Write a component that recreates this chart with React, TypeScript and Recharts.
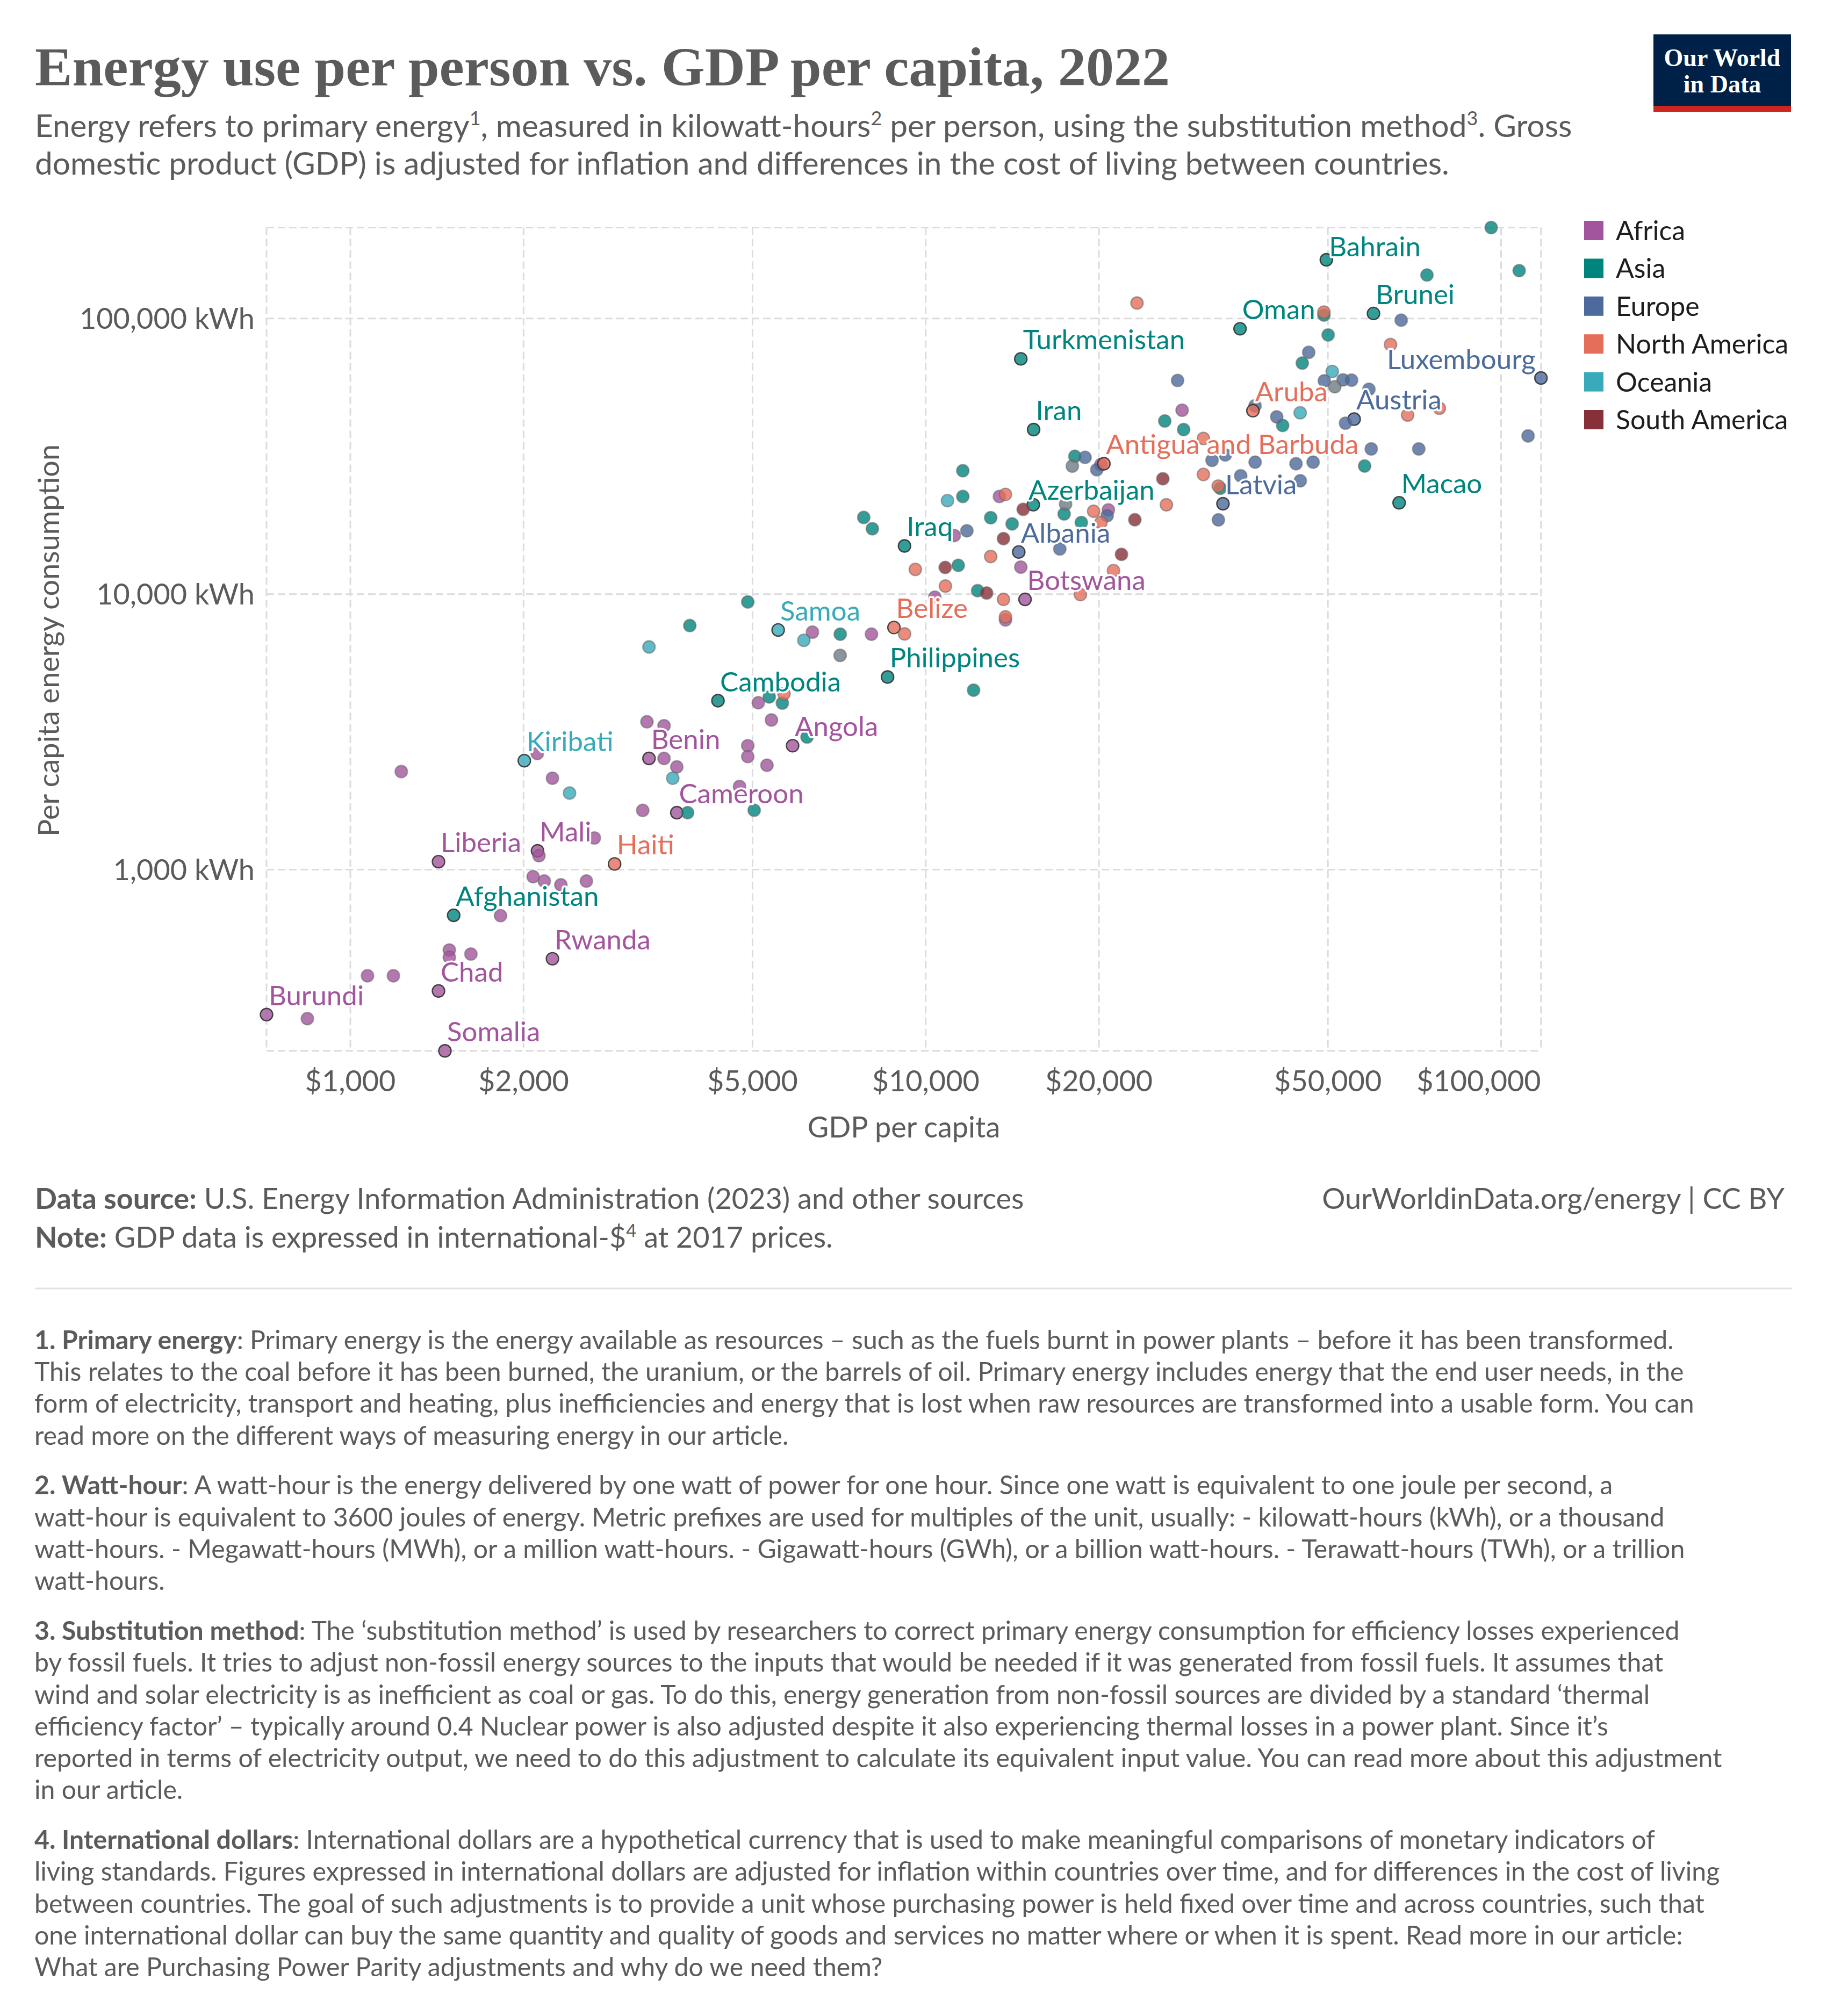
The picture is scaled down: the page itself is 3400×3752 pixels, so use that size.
import React from 'react';
import { ScatterChart, Scatter, XAxis, YAxis, CartesianGrid } from 'recharts';

type Pt = { gdp: number; energy: number; label?: string };

const AFRICA: Pt[] = [
  { gdp: 715, energy: 298, label: 'Burundi' },
  { gdp: 842, energy: 288 },
  { gdp: 1071, energy: 412 },
  { gdp: 1188, energy: 412 },
  { gdp: 1423, energy: 363, label: 'Chad' },
  { gdp: 1486, energy: 511 },
  { gdp: 1486, energy: 481 },
  { gdp: 1620, energy: 494 },
  { gdp: 1460, energy: 220, label: 'Somalia' },
  { gdp: 2245, energy: 475, label: 'Rwanda' },
  { gdp: 1824, energy: 681 },
  { gdp: 1423, energy: 1069, label: 'Liberia' },
  { gdp: 2115, energy: 1170, label: 'Mali' },
  { gdp: 2127, energy: 1124 },
  { gdp: 2655, energy: 1303 },
  { gdp: 2078, energy: 943 },
  { gdp: 2173, energy: 909 },
  { gdp: 2322, energy: 881 },
  { gdp: 2572, energy: 909 },
  { gdp: 2245, energy: 2147 },
  { gdp: 3222, energy: 1641 },
  { gdp: 3693, energy: 1610, label: 'Cameroon' },
  { gdp: 1226, energy: 2270 },
  { gdp: 2113, energy: 2639 },
  { gdp: 3277, energy: 3441 },
  { gdp: 3509, energy: 3328 },
  { gdp: 3304, energy: 2533, label: 'Benin' },
  { gdp: 3509, energy: 2533 },
  { gdp: 3693, energy: 2360 },
  { gdp: 4906, energy: 2817 },
  { gdp: 4906, energy: 2572 },
  { gdp: 5297, energy: 2393 },
  { gdp: 5870, energy: 2817, label: 'Angola' },
  { gdp: 5393, energy: 3493 },
  { gdp: 5117, energy: 4034 },
  { gdp: 4747, energy: 2004 },
  { gdp: 6355, energy: 7275 },
  { gdp: 8048, energy: 7152 },
  { gdp: 10370, energy: 9745 },
  { gdp: 14880, energy: 9570, label: 'Botswana' },
  { gdp: 13760, energy: 8058 },
  { gdp: 14630, energy: 12530 },
  { gdp: 11210, energy: 16310 },
  { gdp: 13430, energy: 22610 },
  { gdp: 20160, energy: 29510 },
  { gdp: 20770, energy: 20210 },
  { gdp: 27900, energy: 46480 },
];

const ASIA: Pt[] = [
  { gdp: 1512, energy: 683, label: 'Afghanistan' },
  { gdp: 3856, energy: 1610 },
  { gdp: 5033, energy: 1643 },
  { gdp: 4354, energy: 4104, label: 'Cambodia' },
  { gdp: 5346, energy: 4234 },
  { gdp: 5634, energy: 4021 },
  { gdp: 6219, energy: 3027 },
  { gdp: 4906, energy: 9366 },
  { gdp: 3890, energy: 7685 },
  { gdp: 7103, energy: 7152 },
  { gdp: 8583, energy: 5001, label: 'Philippines' },
  { gdp: 12110, energy: 4481 },
  { gdp: 7803, energy: 18970 },
  { gdp: 8077, energy: 17260 },
  { gdp: 9186, energy: 14960, label: 'Iraq' },
  { gdp: 11390, energy: 12710 },
  { gdp: 12310, energy: 10290 },
  { gdp: 11600, energy: 28030 },
  { gdp: 11600, energy: 22610 },
  { gdp: 12970, energy: 18930 },
  { gdp: 14130, energy: 17980 },
  { gdp: 15380, energy: 21100, label: 'Azerbaijan' },
  { gdp: 17400, energy: 19530 },
  { gdp: 18640, energy: 18180 },
  { gdp: 18160, energy: 31610 },
  { gdp: 15400, energy: 39530, label: 'Iran' },
  { gdp: 14630, energy: 71370, label: 'Turkmenistan' },
  { gdp: 26030, energy: 42470 },
  { gdp: 28070, energy: 39530 },
  { gdp: 32500, energy: 24210 },
  { gdp: 35180, energy: 91780, label: 'Oman' },
  { gdp: 49210, energy: 102900 },
  { gdp: 50050, energy: 87170 },
  { gdp: 49690, energy: 163300, label: 'Bahrain' },
  { gdp: 60010, energy: 104300, label: 'Brunei' },
  { gdp: 74330, energy: 143800 },
  { gdp: 96110, energy: 213800 },
  { gdp: 107500, energy: 149200 },
  { gdp: 45130, energy: 68880 },
  { gdp: 41720, energy: 40910 },
  { gdp: 57920, energy: 29160 },
  { gdp: 66490, energy: 21450, label: 'Macao' },
];

const EUROPE: Pt[] = [
  { gdp: 11790, energy: 16970 },
  { gdp: 14510, energy: 14210, label: 'Albania' },
  { gdp: 17100, energy: 14580 },
  { gdp: 18920, energy: 31340 },
  { gdp: 19830, energy: 28270 },
  { gdp: 20670, energy: 19260 },
  { gdp: 27400, energy: 59580 },
  { gdp: 31450, energy: 30570 },
  { gdp: 33170, energy: 31980 },
  { gdp: 32860, energy: 21270, label: 'Latvia' },
  { gdp: 32260, energy: 18590 },
  { gdp: 35270, energy: 26880 },
  { gdp: 37350, energy: 48210 },
  { gdp: 40740, energy: 43960 },
  { gdp: 37370, energy: 30110 },
  { gdp: 44010, energy: 29730 },
  { gdp: 47130, energy: 30110 },
  { gdp: 44770, energy: 25770 },
  { gdp: 46310, energy: 75390 },
  { gdp: 49290, energy: 59390 },
  { gdp: 53130, energy: 59900 },
  { gdp: 54970, energy: 59770 },
  { gdp: 58920, energy: 55340 },
  { gdp: 55540, energy: 43160, label: 'Austria' },
  { gdp: 53650, energy: 41700 },
  { gdp: 59470, energy: 33630 },
  { gdp: 71930, energy: 33630 },
  { gdp: 67040, energy: 98610 },
  { gdp: 117300, energy: 60810, label: 'Luxembourg' },
  { gdp: 111400, energy: 37500 },
];

const NORTH_AMERICA: Pt[] = [
  { gdp: 2879, energy: 1049, label: 'Haiti' },
  { gdp: 8806, energy: 7563, label: 'Belize' },
  { gdp: 9190, energy: 7168 },
  { gdp: 9592, energy: 12290 },
  { gdp: 10820, energy: 10690 },
  { gdp: 12970, energy: 13690 },
  { gdp: 13650, energy: 9570 },
  { gdp: 13760, energy: 8268 },
  { gdp: 13760, energy: 23000 },
  { gdp: 19580, energy: 19980 },
  { gdp: 20160, energy: 18180 },
  { gdp: 21200, energy: 12170 },
  { gdp: 18570, energy: 9957 },
  { gdp: 20400, energy: 29730, label: 'Antigua and Barbuda' },
  { gdp: 30380, energy: 36700 },
  { gdp: 30380, energy: 27170 },
  { gdp: 26200, energy: 21080 },
  { gdp: 23290, energy: 113800 },
  { gdp: 37040, energy: 46280, label: 'Aruba' },
  { gdp: 32240, energy: 24660 },
  { gdp: 49210, energy: 105500 },
  { gdp: 64240, energy: 80430 },
  { gdp: 68790, energy: 44620 },
  { gdp: 78100, energy: 47240 },
  { gdp: 5672, energy: 4345 },
];

const OCEANIA: Pt[] = [
  { gdp: 2006, energy: 2485, label: 'Kiribati' },
  { gdp: 2404, energy: 1897 },
  { gdp: 3633, energy: 2147 },
  { gdp: 3304, energy: 6430 },
  { gdp: 5540, energy: 7410, label: 'Samoa' },
  { gdp: 6140, energy: 6792 },
  { gdp: 10910, energy: 21840 },
  { gdp: 44750, energy: 45500 },
  { gdp: 50880, energy: 64240 },
];

const SOUTH_AMERICA: Pt[] = [
  { gdp: 10810, energy: 12490 },
  { gdp: 12760, energy: 10090 },
  { gdp: 13650, energy: 15890 },
  { gdp: 14770, energy: 20300 },
  { gdp: 21890, energy: 13940 },
  { gdp: 23090, energy: 18610 },
  { gdp: 25830, energy: 26220 },
];

const OTHER: Pt[] = [
  { gdp: 7099, energy: 5991 },
  { gdp: 17980, energy: 29130 },
  { gdp: 17500, energy: 21200 },
  { gdp: 51400, energy: 56570 },
];

const X_TICKS = [1000, 2000, 5000, 10000, 20000, 50000, 100000];
const Y_TICKS = [1000, 10000, 100000];

const TITLE = 'Energy use per person vs. GDP per capita, 2022';
const X_LABEL = 'GDP per capita';
const Y_LABEL = 'Per capita energy consumption';

const SERIES = [
  { name: 'Africa', color: '#A2559C', data: AFRICA, legend: true },
  { name: 'Asia', color: '#00847E', data: ASIA, legend: true },
  { name: 'Europe', color: '#4C6A9C', data: EUROPE, legend: true },
  { name: 'North America', color: '#E56E5A', data: NORTH_AMERICA, legend: true },
  { name: 'Oceania', color: '#38AABA', data: OCEANIA, legend: true },
  { name: 'South America', color: '#883039', data: SOUTH_AMERICA, legend: true },
  { name: 'Other', color: '#6D7A85', data: OTHER, legend: false },
];

const LABEL_PLACEMENT: Record<string, { dx?: number; dy?: number; anchor?: string }> = {
  Luxembourg: { dx: -10, dy: -17, anchor: 'end' },
  Bahrain: { dx: 5, dy: -7 },
  Azerbaijan: { dx: -9, dy: -9 },
};

const SUBTITLE_1: { t: string; sup?: boolean }[] = [
  { t: 'Energy refers to primary energy' },
  { t: '1', sup: true },
  { t: ', measured in kilowatt-hours' },
  { t: '2', sup: true },
  { t: ' per person, using the substitution method' },
  { t: '3', sup: true },
  { t: '. Gross' },
];
const SUBTITLE_2 = 'domestic product (GDP) is adjusted for inflation and differences in the cost of living between countries.';

const NOTES = [
  {
    bold: '1. Primary energy',
    lines: [
      ': Primary energy is the energy available as resources – such as the fuels burnt in power plants – before it has been transformed.',
      'This relates to the coal before it has been burned, the uranium, or the barrels of oil. Primary energy includes energy that the end user needs, in the',
      'form of electricity, transport and heating, plus inefficiencies and energy that is lost when raw resources are transformed into a usable form. You can',
      'read more on the different ways of measuring energy in our article.',
    ],
  },
  {
    bold: '2. Watt-hour',
    lines: [
      ': A watt-hour is the energy delivered by one watt of power for one hour. Since one watt is equivalent to one joule per second, a',
      'watt-hour is equivalent to 3600 joules of energy. Metric prefixes are used for multiples of the unit, usually: - kilowatt-hours (kWh), or a thousand',
      'watt-hours. - Megawatt-hours (MWh), or a million watt-hours. - Gigawatt-hours (GWh), or a billion watt-hours. - Terawatt-hours (TWh), or a trillion',
      'watt-hours.',
    ],
  },
  {
    bold: '3. Substitution method',
    lines: [
      ': The ‘substitution method’ is used by researchers to correct primary energy consumption for efficiency losses experienced',
      'by fossil fuels. It tries to adjust non-fossil energy sources to the inputs that would be needed if it was generated from fossil fuels. It assumes that',
      'wind and solar electricity is as inefficient as coal or gas. To do this, energy generation from non-fossil sources are divided by a standard ‘thermal',
      'efficiency factor’ – typically around 0.4 Nuclear power is also adjusted despite it also experiencing thermal losses in a power plant. Since it’s',
      'reported in terms of electricity output, we need to do this adjustment to calculate its equivalent input value. You can read more about this adjustment',
      'in our article.',
    ],
  },
  {
    bold: '4. International dollars',
    lines: [
      ': International dollars are a hypothetical currency that is used to make meaningful comparisons of monetary indicators of',
      'living standards. Figures expressed in international dollars are adjusted for inflation within countries over time, and for differences in the cost of living',
      'between countries. The goal of such adjustments is to provide a unit whose purchasing power is held fixed over time and across countries, such that',
      'one international dollar can buy the same quantity and quality of goods and services no matter where or when it is spent. Read more in our article:',
      'What are Purchasing Power Parity adjustments and why do we need them?',
    ],
  },
];

const SANS = "Lato, 'Noto Sans', sans-serif";
const TEXT_GREY = '#5b5b5b';

// layout (pixels)
const CHART_W = 3400;
const CHART_H = 2200;
const MARGIN = { top: 423.5, right: 532.3, bottom: 44.2, left: 196 };
const PLOT_RIGHT = CHART_W - MARGIN.right;

const fmtX = (v: number) => '$' + v.toLocaleString('en-US');
const fmtY = (v: number) => v.toLocaleString('en-US') + ' kWh';

const makeDot = (color: string) => (props: any) => {
  const { cx, cy, payload } = props;
  if (cx == null || cy == null) return <g />;
  const labeled = !!(payload && payload.label);
  return (
    <circle
      cx={cx}
      cy={cy}
      r={11.5}
      fill={color}
      fillOpacity={0.8}
      stroke={labeled ? '#333' : '#666'}
      strokeOpacity={labeled ? 0.9 : 0.55}
      strokeWidth={2.4}
    />
  );
};

const LabelShape = (props: any) => {
  const { cx, cy, payload } = props;
  if (cx == null || cy == null || !payload) return <g />;
  const p = LABEL_PLACEMENT[payload.label] || {};
  const dx = p.dx ?? 4;
  const dy = p.dy ?? -17.5;
  const anchor: any = p.anchor ?? 'start';
  return (
    <text
      x={cx + dx}
      y={cy + dy}
      textAnchor={anchor}
      fontFamily={SANS}
      fontSize={51}
      fill={payload.color}
      stroke="#fff"
      strokeWidth={7}
      strokeLinejoin="round"
      paintOrder="stroke"
    >
      {payload.label}
    </text>
  );
};

const XTick = (props: any) => {
  const { x, y, payload } = props;
  const label = fmtX(payload.value);
  const isLast = payload.value === X_TICKS[X_TICKS.length - 1];
  return (
    <text
      x={isLast ? PLOT_RIGHT : x}
      y={y}
      dy="0.71em"
      textAnchor={isLast ? 'end' : 'middle'}
      fontFamily={SANS}
      fontSize={54}
      fill={TEXT_GREY}
    >
      {label}
    </text>
  );
};

const LABELED = SERIES.flatMap((s) =>
  s.data.filter((d) => d.label).map((d) => ({ ...d, color: s.color }))
);

function renderSegments(segs: { t: string; sup?: boolean }[], shift: number, supSize: number) {
  const out: React.ReactNode[] = [];
  let raised = false;
  segs.forEach((s, i) => {
    if (s.sup) {
      out.push(
        <tspan key={i} dy={-shift} fontSize={supSize}>
          {s.t}
        </tspan>
      );
      raised = true;
    } else {
      out.push(
        <tspan key={i} dy={raised ? shift : 0}>
          {s.t}
        </tspan>
      );
      raised = false;
    }
  });
  return out;
}

export default function App() {
  const noteLines: { y: number; bold?: string; text: string }[] = [];
  let y = 2510.7;
  NOTES.forEach((n, pi) => {
    if (pi > 0) y += 33.4;
    n.lines.forEach((line, li) => {
      noteLines.push({ y, bold: li === 0 ? n.bold : undefined, text: line });
      y += 59.3;
    });
  });

  return (
    <div style={{ position: 'absolute', left: 0, top: 0, width: 3400, height: 3752, background: '#fff' }}>
      <div style={{ position: 'absolute', left: 0, top: 0 }}>
        <ScatterChart width={CHART_W} height={CHART_H} margin={MARGIN}>
          <CartesianGrid stroke="#dcdcdc" strokeWidth={3} strokeDasharray="14 7" />
          <XAxis
            dataKey="gdp"
            type="number"
            scale="log"
            domain={['dataMin', 'dataMax']}
            ticks={X_TICKS}
            interval={0}
            tickFormatter={fmtX}
            axisLine={false}
            tickLine={false}
            tickSize={0}
            tickMargin={37}
            height={200}
            tick={<XTick />}
          />
          <YAxis
            dataKey="energy"
            type="number"
            scale="log"
            domain={['dataMin', 'dataMax']}
            ticks={Y_TICKS}
            interval={0}
            tickFormatter={fmtY}
            axisLine={false}
            tickLine={false}
            tickSize={0}
            tickMargin={22}
            width={300}
            tick={{ fontFamily: SANS, fontSize: 54, fill: TEXT_GREY }}
          />
          {SERIES.map((s) => (
            <Scatter
              key={s.name}
              name={s.name}
              data={s.data}
              shape={makeDot(s.color)}
              isAnimationActive={false}
            />
          ))}
          <Scatter name="labels" data={LABELED} shape={LabelShape} isAnimationActive={false} />
        </ScatterChart>
      </div>

      <svg
        width={3400}
        height={3752}
        style={{ position: 'absolute', left: 0, top: 0, pointerEvents: 'none' }}
      >
        {/* Title */}
        <text
          x={65}
          y={159}
          fontFamily="'Liberation Serif', 'DejaVu Serif', serif"
          fontWeight={700}
          fontSize={102}
          fill={TEXT_GREY}
          textLength={2112}
          lengthAdjust="spacingAndGlyphs"
        >
          {TITLE}
        </text>

        {/* Subtitle */}
        <text x={65} y={255} fontFamily={SANS} fontSize={58.5} fill={TEXT_GREY}>
          {renderSegments(SUBTITLE_1, 22, 36)}
        </text>
        <text x={65} y={325} fontFamily={SANS} fontSize={58.5} fill={TEXT_GREY}>
          {SUBTITLE_2}
        </text>

        {/* Logo */}
        <rect x={3077} y={64} width={256} height={144} fill="#002147" />
        <rect x={3077} y={197} width={256} height={11} fill="#CE261E" />
        <text x={3205} y={123} textAnchor="middle" fontFamily="'Liberation Serif', serif" fontWeight={700} fontSize={46} fill="#fff">
          Our World
        </text>
        <text x={3205} y={172} textAnchor="middle" fontFamily="'Liberation Serif', serif" fontWeight={700} fontSize={46} fill="#fff">
          in Data
        </text>

        {/* Legend */}
        {SERIES.filter((s) => s.legend).map((s, i) => (
          <g key={s.name}>
            <rect x={2948} y={411 + i * 70.4} width={36} height={36} fill={s.color} />
            <text x={3007} y={447 + i * 70.4} fontFamily={SANS} fontSize={50} fill="#1d1d1d">
              {s.name}
            </text>
          </g>
        ))}

        {/* Axis titles */}
        <text x={1682} y={2117} textAnchor="middle" fontFamily={SANS} fontSize={54} fill={TEXT_GREY}>
          {X_LABEL}
        </text>
        <text
          transform="translate(110,1192) rotate(-90)"
          textAnchor="middle"
          fontFamily={SANS}
          fontSize={54}
          fill={TEXT_GREY}
        >
          {Y_LABEL}
        </text>

        {/* Footer */}
        <text x={65} y={2250} fontFamily={SANS} fontSize={54} fill={TEXT_GREY}>
          <tspan fontWeight={700}>Data source:</tspan> U.S. Energy Information Administration (2023) and other sources
        </text>
        <text x={65} y={2322} fontFamily={SANS} fontSize={54} fill={TEXT_GREY}>
          {renderSegments(
            [
              { t: 'Note:' },
              { t: ' GDP data is expressed in international-$' },
              { t: '4', sup: true },
              { t: ' at 2017 prices.' },
            ],
            20,
            33
          ).map((node: any, i) =>
            i === 0 ? (
              <tspan key="b" fontWeight={700}>
                Note:
              </tspan>
            ) : (
              node
            )
          )}
        </text>
        <text x={3321} y={2250} textAnchor="end" fontFamily={SANS} fontSize={54} fill={TEXT_GREY}>
          OurWorldinData.org/energy | CC BY
        </text>
        <line x1={65} x2={3335} y1={2398} y2={2398} stroke="#e2e2e2" strokeWidth={3} />

        {/* Notes */}
        {noteLines.map((l, i) => (
          <text key={i} x={64} y={l.y} fontFamily={SANS} fontSize={48.2} fill={TEXT_GREY}>
            {l.bold ? <tspan fontWeight={700}>{l.bold}</tspan> : null}
            {l.text}
          </text>
        ))}
      </svg>
    </div>
  );
}
